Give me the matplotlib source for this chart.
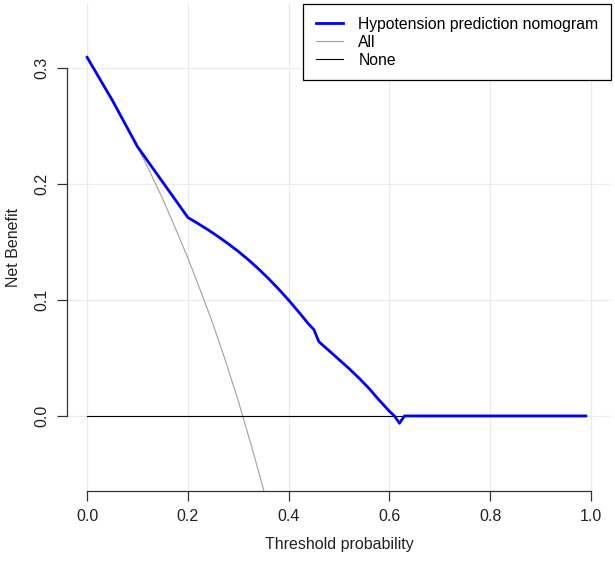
import numpy as np
import matplotlib
matplotlib.use("Agg")
import matplotlib.pyplot as plt

plt.rcParams['font.family'] = ['Liberation Sans', 'DejaVu Sans']

# decision curve values
thr_model = [0.0, 0.05, 0.10, 0.20, 0.22, 0.24, 0.26, 0.28, 0.30, 0.32, 0.34, 0.36, 0.38,
             0.40, 0.42, 0.44, 0.45, 0.46, 0.48, 0.50, 0.52, 0.54, 0.56, 0.58, 0.60,
             0.61, 0.62, 0.63, 0.99]
nb_model = [0.309, 0.272, 0.232, 0.171, 0.1658, 0.1604, 0.1546, 0.1484, 0.1418, 0.1346,
            0.1268, 0.1184, 0.1094, 0.0998, 0.0896, 0.0790, 0.0745, 0.064, 0.0563, 0.0486,
            0.0408, 0.0325, 0.0235, 0.0135, 0.004, 0.0, -0.0063, 0.0, 0.0]

thr_all = [0.0, 0.05, 0.10, 0.125, 0.15, 0.175, 0.20, 0.225, 0.25, 0.275, 0.30, 0.325,
           0.35, 0.375]
nb_all = [0.309, 0.273, 0.232, 0.210, 0.187, 0.162, 0.136, 0.108, 0.079, 0.047, 0.013,
          -0.024, -0.063, -0.106]

thr_none = [0.0, 0.99]
nb_none = [0.0, 0.0]

fig = plt.figure(figsize=(6.15, 5.63), dpi=100)
ax = fig.add_axes([67 / 615, 72 / 563, (611 - 67) / 615, (559 - 72) / 563])

ax.plot(thr_model, nb_model, color='#0000FF', lw=2.0, label='Hypotension prediction nomogram', zorder=4)
ax.plot(thr_all, nb_all, color='#A0A0A0', lw=0.8, label='All', zorder=3)
ax.plot(thr_none, nb_none, color='black', lw=0.8, label='None', zorder=3)

ax.set_xlim(-0.04, 1.04)
ax.set_ylim(-0.0647, 0.355)

xt = [0.0, 0.2, 0.4, 0.6, 0.8, 1.0]
yt = [0.0, 0.1, 0.2, 0.3]
ax.set_xticks(xt)
ax.set_yticks(yt)
ax.set_xticklabels(['0.0', '0.2', '0.4', '0.6', '0.8', '1.0'])
ax.set_yticklabels(['0.0', '0.1', '0.2', '0.3'], rotation=90, va='center')
ax.grid(True, color='#EBEBEB', lw=0.9)
ax.set_axisbelow(True)

for s in ['top', 'right']:
    ax.spines[s].set_visible(False)
ax.spines['left'].set_bounds(0, 0.3)
ax.spines['bottom'].set_bounds(0, 1)
for s in ['left', 'bottom']:
    ax.spines[s].set_color('#333333')
    ax.spines[s].set_linewidth(0.9)
ax.tick_params(length=7, width=0.9, color='#333333', labelsize=11.5, labelcolor='#222222', pad=6)

ax.set_xlabel('Threshold probability', fontsize=11.5, labelpad=9, color='#222222')
ax.set_ylabel('Net Benefit', fontsize=11.5, labelpad=9, color='#222222')

leg = ax.legend(loc='upper right', bbox_to_anchor=(1, 1), borderaxespad=0, fancybox=False,
                edgecolor='black', framealpha=1, fontsize=11.3, handlelength=1.75,
                labelspacing=0.2, borderpad=0.8, handletextpad=0.95)
leg.get_frame().set_linewidth(0.9)

fig.savefig('out.png', dpi=100)
